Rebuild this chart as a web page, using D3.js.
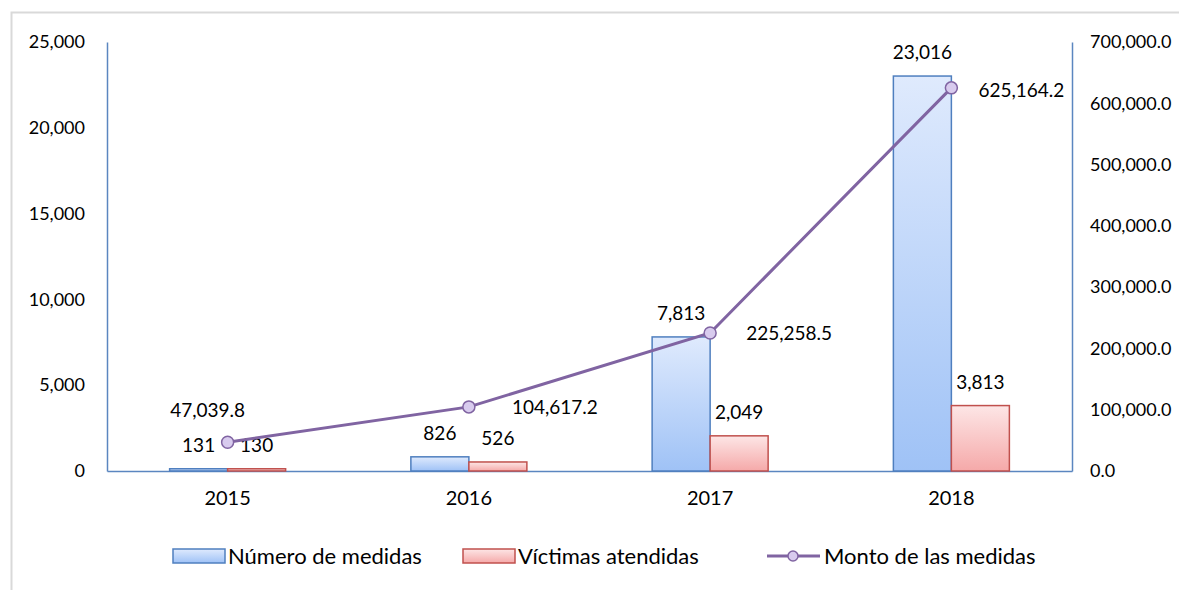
<!DOCTYPE html>
<html>
<head>
<meta charset="utf-8">
<script src="https://cdn.jsdelivr.net/npm/d3@7"></script>
<style>
  body { margin: 0; background: #fff; }
  text { font-family: Lato, "Open Sans", sans-serif; fill: #000; }
</style>
</head>
<body>
<div id="vis"></div>
<script>
// data
const years = ['2015', '2016', '2017', '2018'];
const numeroMedidas = [131, 826, 7813, 23016];
const victimasAtendidas = [130, 526, 2049, 3813];
const montoMedidas = [47039.8, 104617.2, 225258.5, 625164.2];
const leftTicks = [0, 5000, 10000, 15000, 20000, 25000];
const rightTicks = [0, 100000, 200000, 300000, 400000, 500000, 600000, 700000];
const seriesNames = ['Número de medidas', 'Víctimas atendidas', 'Monto de las medidas'];

// layout
const W = 1179, H = 590;
const margin = {top: 42, right: 107, bottom: 119, left: 107};
const width = W - margin.left - margin.right;
const height = H - margin.top - margin.bottom;
// manual offsets of the line labels (like in the source workbook)
const lineLabelDx = [-20, 43, 36, 27];
const lineLabelDy = [-32, 0, 0, 2];

const svgRoot = d3.select('#vis').append('svg')
    .attr('width', W).attr('height', H);

// light frame around the chart
svgRoot.append('path')
    .attr('d', `M11.5,${H} V12.5 H${W}`)
    .attr('fill', 'none').attr('stroke', '#d9d9d9').attr('stroke-width', 2);

const defs = svgRoot.append('defs');
function grad(id, top, bottom) {
  const g = defs.append('linearGradient').attr('id', id)
      .attr('x1', 0).attr('y1', 0).attr('x2', 0).attr('y2', 1);
  g.append('stop').attr('offset', '0%').attr('stop-color', top);
  g.append('stop').attr('offset', '100%').attr('stop-color', bottom);
}
grad('gBlue', '#dfeafd', '#9fc2f6');
grad('gRed', '#fde6e6', '#f5a9a9');

const svg = svgRoot.append('g')
    .attr('transform', `translate(${margin.left},${margin.top})`);

const x = d3.scaleBand().domain(years).range([0, width]);
const xInner = d3.scaleBand().domain([0, 1])
    .range([x.bandwidth() / 2 - 58, x.bandwidth() / 2 + 58]);
const yL = d3.scaleLinear().domain([0, 25000]).range([height, 0]);
const yR = d3.scaleLinear().domain([0, 700000]).range([height, 0]);

const axisColor = '#5b86c0';

// left axis
const leftAxis = svg.append('g')
    .call(d3.axisLeft(yL).tickValues(leftTicks).tickSize(0).tickPadding(22)
      .tickFormat(d3.format(',')));
leftAxis.select('.domain').attr('stroke', axisColor).attr('stroke-width', 1.5);
leftAxis.selectAll('text').style('font-size', '18px');

// right axis
const rightAxis = svg.append('g')
    .attr('transform', `translate(${width},0)`)
    .call(d3.axisRight(yR).tickValues(rightTicks).tickSize(0).tickPadding(18)
      .tickFormat(d3.format(',.1f')));
rightAxis.select('.domain').attr('stroke', axisColor).attr('stroke-width', 1.5);
rightAxis.selectAll('text').style('font-size', '18px');

// bottom axis
const bottomAxis = svg.append('g')
    .attr('transform', `translate(0,${height})`)
    .call(d3.axisBottom(x).tickSize(0).tickPadding(20));
bottomAxis.select('.domain').attr('stroke', axisColor).attr('stroke-width', 1.5);
bottomAxis.selectAll('text').style('font-size', '20px');

// bars
const barSeries = [
  {values: numeroMedidas, fill: 'url(#gBlue)', stroke: '#4f7fbf'},
  {values: victimasAtendidas, fill: 'url(#gRed)', stroke: '#c0504d'}
];
barSeries.forEach((s, i) => {
  const g = svg.append('g');
  g.selectAll('rect').data(s.values).join('rect')
      .attr('x', (d, j) => x(years[j]) + xInner(i))
      .attr('y', d => yL(d))
      .attr('width', xInner.bandwidth())
      .attr('height', d => height - yL(d))
      .attr('fill', s.fill)
      .attr('stroke', s.stroke)
      .attr('stroke-width', 1.5);
  g.selectAll('text').data(s.values).join('text')
      .attr('x', (d, j) => x(years[j]) + xInner(i) + xInner.bandwidth() / 2)
      .attr('y', d => yL(d) - 17)
      .attr('text-anchor', 'middle')
      .style('font-size', '19px')
      .text(d => d3.format(',')(d));
});

// line
const cx = (d, j) => x(years[j]) + x.bandwidth() / 2;
const line = d3.line().x(cx).y(d => yR(d));
svg.append('path')
    .datum(montoMedidas)
    .attr('d', line)
    .attr('fill', 'none')
    .attr('stroke', '#8064a2')
    .attr('stroke-width', 3);
svg.selectAll('.point').data(montoMedidas).join('circle')
    .attr('class', 'point')
    .attr('cx', cx).attr('cy', d => yR(d))
    .attr('r', 6)
    .attr('fill', '#d8cbee')
    .attr('stroke', '#8064a2')
    .attr('stroke-width', 1.5);
svg.selectAll('.line-label').data(montoMedidas).join('text')
    .attr('class', 'line-label')
    .attr('x', (d, j) => cx(d, j) + lineLabelDx[j])
    .attr('y', (d, j) => yR(d) + lineLabelDy[j])
    .attr('dy', '0.35em')
    .attr('text-anchor', (d, j) => j === 0 ? 'middle' : 'start')
    .style('font-size', '19px')
    .text(d => d3.format(',.1f')(d));

// legend
const legend = svgRoot.append('g').attr('transform', 'translate(0,556)');
const legendX = [173, 463, 767];
legendX.forEach((lx, i) => {
  const item = legend.append('g').attr('transform', `translate(${lx},0)`);
  if (i < 2) {
    item.append('rect')
        .attr('x', 0).attr('y', -7).attr('width', 52).attr('height', 14)
        .attr('fill', barSeries[i].fill)
        .attr('stroke', barSeries[i].stroke).attr('stroke-width', 1.5);
  } else {
    item.append('line').attr('x1', 0).attr('x2', 53).attr('y1', 0).attr('y2', 0)
        .attr('stroke', '#8064a2').attr('stroke-width', 3);
    item.append('circle').attr('cx', 26).attr('cy', 0).attr('r', 5)
        .attr('fill', '#d8cbee').attr('stroke', '#8064a2').attr('stroke-width', 1.5);
  }
  item.append('text')
      .attr('x', i < 2 ? 55 : 57).attr('y', 0).attr('dy', '0.35em')
      .style('font-size', '22px')
      .text(seriesNames[i]);
});
</script>
</body>
</html>
